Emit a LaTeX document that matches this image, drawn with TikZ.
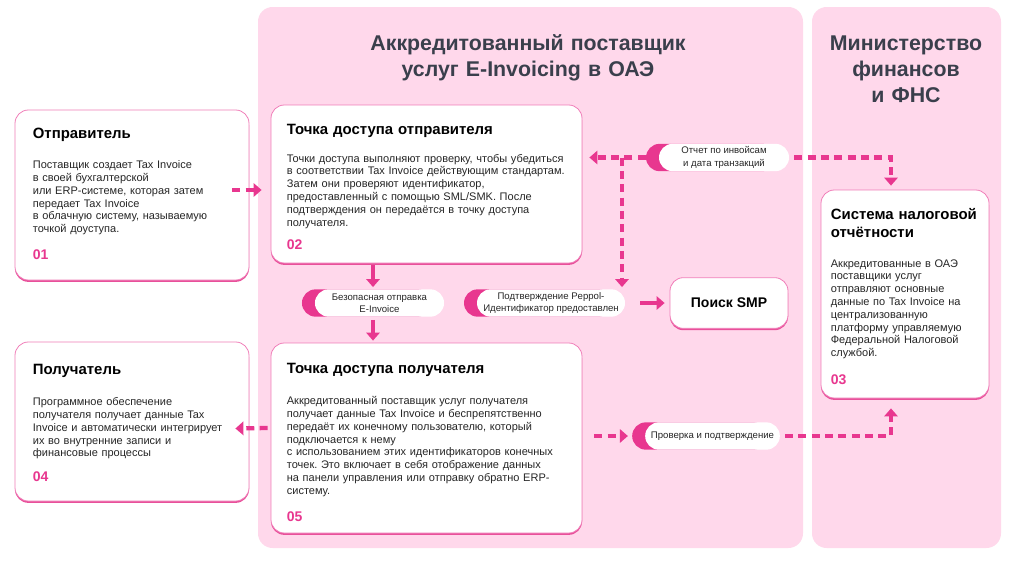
\documentclass[tikz,border=0pt]{standalone}
\usepackage{fontspec}
\setmainfont{Liberation Sans}
\usetikzlibrary{arrows.meta,calc,fit,shapes.misc,shadows}
\frenchspacing

\definecolor{rosa}{HTML}{E8378F}
\definecolor{fondoRosa}{HTML}{FFD8EB}
\definecolor{bordeRosa}{HTML}{F07DB8}
\definecolor{sombraRosa}{HTML}{E8509A}
\definecolor{gris}{HTML}{3A3F4C}
\definecolor{tinta}{HTML}{262626}

\newcommand{\pastillaDoble}[5]{
\node[pastillaFondo,minimum width=#4] (#1F) at ($(#2,#3)+(-13,0)$) {};
\node[pastilla,minimum width=#4] (#1) at (#2,#3) {#5};
}

\tikzset{
panel/.style={fill=fondoRosa,draw=none,rounded corners=11pt},
caja/.style={draw=bordeRosa,line width=0.6pt,fill=white,rounded corners=10pt,inner sep=0pt,
  drop shadow={shadow xshift=0pt,shadow yshift=-1.4pt,fill=sombraRosa,opacity=1}},
encabezado/.style={font=\fontsize{16}{19.5}\selectfont\bfseries,text=gris,text width=320pt,align=center,inner sep=0pt,anchor=base},
titulo/.style={font=\fontsize{11.2}{13.5}\selectfont\bfseries,text=black,text width=200pt,align=left,inner sep=0pt,anchor=base west},
texto/.style={font=\fontsize{8.25}{9.6}\selectfont,text=tinta,text width=240pt,align=left,inner sep=0pt,anchor=base west},
numero/.style={font=\fontsize{10.5}{12}\selectfont\bfseries,text=rosa,inner sep=0pt,anchor=base west},
pastilla/.style={rounded rectangle,fill=white,minimum height=20.5pt,inner sep=0pt,align=center,
  font=\fontsize{7.2}{9.2}\selectfont,text=tinta},
pastillaFondo/.style={rounded rectangle,fill=rosa,minimum height=20.5pt,inner sep=0pt},
flecha/.style={rosa,line width=3.2pt,-{Triangle[length=6pt,width=10pt]}},
discontinua/.style={flecha,dash pattern=on 6pt off 4pt}
}

\begin{document}
\begin{tikzpicture}[x=0.75pt,y=-0.75pt]
    \useasboundingbox (0,0) rectangle (1024,561);
    \fill[white] (0,0) rectangle (1024,561);

    % paneles
    \fill[panel] (258,7) rectangle (803,548);
    \fill[panel] (812,7) rectangle (1001,548);
    \node[encabezado] (tituloProv) at (528,50) {Аккредитованный поставщик\\услуг E-Invoicing в ОАЭ};
    \node[encabezado] (tituloMin) at (906,50) {Министерство\\финансов\\и ФНС};

    % cajas
    \node[caja,fit={(15,110)(249,280)}] (emisor) {};
    \node[caja,fit={(271,105)(582,263)}] (puntoE) {};
    \node[caja,fit={(15,342)(249,501)}] (receptor) {};
    \node[caja,fit={(271,343)(582,533)}] (puntoR) {};
    \node[caja,fit={(821,190)(989,398)}] (fiscal) {};
    \node[caja,minimum width=88.5pt,minimum height=38pt,
      font=\fontsize{10.5}{12}\selectfont\bfseries] (smp) at (729,303) {Поиск SMP};

    % textos
    \node[titulo] (emisorT) at ($(emisor.north west)+(18,29)$) {Отправитель};
    \node[texto] (emisorX) at ($(emisor.north west)+(18,59)$) {Поставщик создает Tax Invoice\\в своей бухгалтерской\\или ERP-системе, которая затем\\передает Tax Invoice\\в облачную систему, называемую\\точкой доуступа.};
    \node[numero] (emisorN) at ($(emisor.north west)+(18,150)$) {01};

    \node[titulo] (puntoET) at ($(puntoE.north west)+(16,30)$) {Точка доступа отправителя};
    \node[texto] (puntoEX) at ($(puntoE.north west)+(16,57.5)$) {Точки доступа выполняют проверку, чтобы убедиться\\в соответствии Tax Invoice действующим стандартам.\\Затем они проверяют идентификатор,\\предоставленный с помощью SML/SMK. После\\подтверждения он передаётся в точку доступа\\получателя.};
    \node[numero] (puntoEN) at ($(puntoE.north west)+(16,145)$) {02};

    \node[titulo] (fiscalT) at ($(fiscal.north west)+(10,30)$) {Система налоговой\\отчётности};
    \node[texto] (fiscalX) at ($(fiscal.north west)+(10,77.5)$) {Аккредитованные в ОАЭ\\поставщики услуг\\отправляют основные\\данные по Tax Invoice на\\централизованную\\платформу управляемую\\Федеральной Налоговой\\службой.};
    \node[numero] (fiscalN) at ($(fiscal.north west)+(10,195)$) {03};

    \node[titulo] (receptorT) at ($(receptor.north west)+(18,33)$) {Получатель};
    \node[texto] (receptorX) at ($(receptor.north west)+(18,64)$) {Программное обеспечение\\получателя получает данные Tax\\Invoice и автоматически интегрирует\\их во внутренние записи и\\финансовые процессы};
    \node[numero] (receptorN) at ($(receptor.north west)+(18,140)$) {04};

    \node[titulo] (puntoRT) at ($(puntoR.north west)+(16,31)$) {Точка доступа получателя};
    \node[texto] (puntoRX) at ($(puntoR.north west)+(16,62)$) {Аккредитованный поставщик услуг получателя\\получает данные Tax Invoice и беспрепятственно\\передаёт их конечному пользователю, который\\подключается к нему\\с использованием этих идентификаторов конечных\\точек. Это включает в себя отображение данных\\на панели управления или отправку обратно ERP-\\систему.};
    \node[numero] (puntoRN) at ($(puntoR.north west)+(16,179)$) {05};

    % pastillas
    \pastillaDoble{envio}{379.5}{303}{96.8pt}{Безопасная отправка\\E-Invoice}
    \pastillaDoble{peppol}{551}{303}{111pt}{Подтверждение Peppol-\\Идентификатор предоставлен}
    \pastillaDoble{informe}{724}{157.5}{97.5pt}{Отчет по инвойсам\\и дата транзакций}
    \pastillaDoble{verifica}{712.5}{436}{101pt}{Проверка и подтверждение}

    \coordinate (ejeEnvio) at (373,0);
    \coordinate (ejePeppol) at (622,0);
    \coordinate (ejeFiscal) at (891,0);

    % flechas
    \draw[discontinua] ($(emisor.east)+(-17,-5)$) -- ($(puntoE.west)+(-9,6)$);
    \draw[flecha] ($(puntoE.south -| ejeEnvio)+(0,2)$) -- ($(envio.north -| ejeEnvio)+(0,-2)$);
    \draw[flecha] ($(envio.south -| ejeEnvio)+(0,3)$) -- ($(puntoR.north -| ejeEnvio)+(0,-2)$);
    \draw[discontinua] (informeF.west) -- ($(puntoE.east |- informe)+(7,0)$);
    \draw[discontinua] (ejePeppol |- informe) -- ($(peppol.north -| ejePeppol)+(0,-2)$);
    \draw[discontinua] ($(informe.east)+(5,0)$) -| ($(fiscal.north -| ejeFiscal)+(0,-4)$);
    \draw[flecha] ($(peppol.east)+(15,0)$) -- ($(smp.west)+(-5,0)$);
    \draw[discontinua] ($(puntoR.west)+(-3,-10)$) -- ($(receptor.east)+(-14,7)$);
    \draw[discontinua] ($(puntoR.east)+(12,-2)$) -- ($(verificaF.west)+(-4,0)$);
    \draw[discontinua] ($(verifica.east)+(5,0)$) -| ($(fiscal.south -| ejeFiscal)+(0,10)$);
\end{tikzpicture}
\end{document}
